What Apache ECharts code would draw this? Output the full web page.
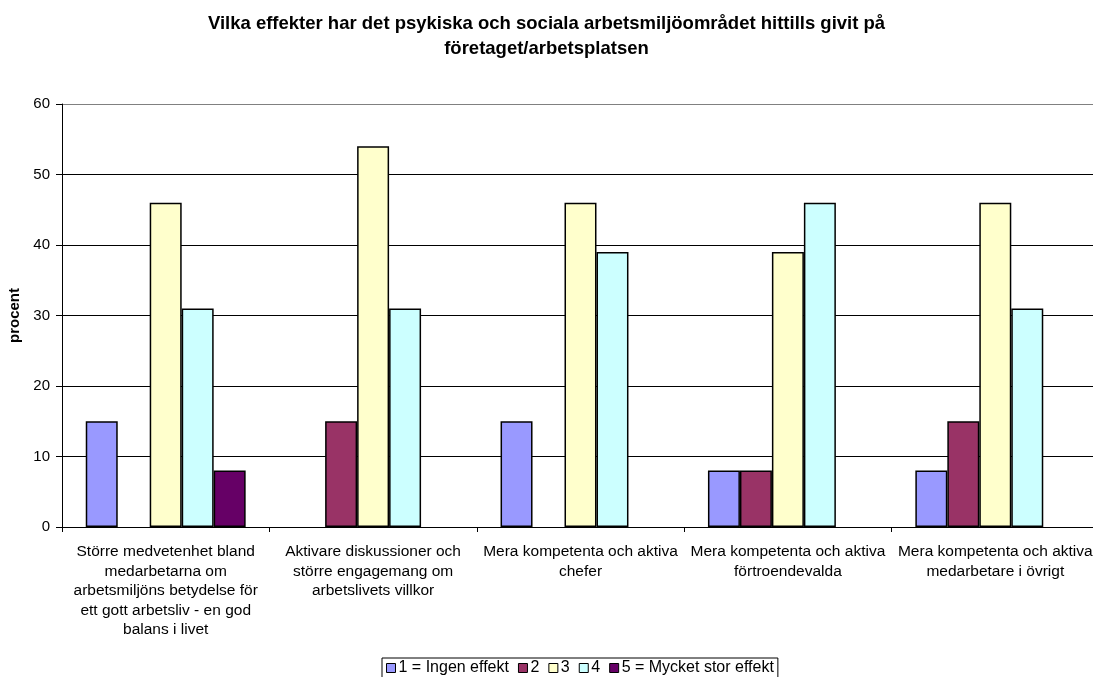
<!DOCTYPE html>
<html>
<head>
<meta charset="utf-8">
<script src="https://cdn.jsdelivr.net/npm/echarts@6/dist/echarts.min.js"></script>
<style>
  html, body { margin: 0; padding: 0; background: #fff; }
  #chart { width: 1093px; height: 677px; }
</style>
</head>
<body>
<div id="chart"></div>
<script>
// Answer categories (line breaks as in the printed report)
const categories = [
  'Större medvetenhet bland\nmedarbetarna om\narbetsmiljöns betydelse för\nett gott arbetsliv - en god\nbalans i livet',
  'Aktivare diskussioner och\nstörre engagemang om\narbetslivets villkor',
  'Mera kompetenta och aktiva\nchefer',
  'Mera kompetenta och aktiva\nförtroendevalda',
  'Mera kompetenta och aktiva\nmedarbetare i övrigt'
];

// Share of respondents (procent) per rating; null = no answers
const rating1 = [15, null, 15, 8, 8];
const rating2 = [null, 15, null, 8, 15];
const rating3 = [46, 54, 46, 39, 46];
const rating4 = [31, 31, 39, 46, 31];
const rating5 = [8, null, null, null, null];

const seriesNames = ['1 = Ingen effekt', '2', '3', '4', '5 = Mycket stor effekt'];
const seriesColors = ['#9999FF', '#993366', '#FFFFCC', '#CCFFFF', '#660066'];
const seriesData = [rating1, rating2, rating3, rating4, rating5];

const yTicks = { min: 0, max: 60, interval: 10 };

const font = 'Arial, "Liberation Sans", sans-serif';

const chart = echarts.init(document.getElementById('chart'), null, { renderer: 'canvas' });

chart.setOption({
  animation: false,
  backgroundColor: '#ffffff',
  textStyle: { fontFamily: font, color: '#000' },
  title: {
    text: 'Vilka effekter har det psykiska och sociala arbetsmiljöområdet hittills givit på\nföretaget/arbetsplatsen',
    left: 'center',
    top: 6,
    textStyle: { fontFamily: font, fontSize: 18.5, fontWeight: 'bold', color: '#000', lineHeight: 25 }
  },
  legend: {
    top: 658,
    left: 382,
    icon: 'rect',
    itemWidth: 9,
    itemHeight: 9,
    itemGap: 9,
    padding: [2, 4, 10, 4],
    borderColor: '#000',
    borderWidth: 1,
    textStyle: { fontFamily: font, fontSize: 16, color: '#000', padding: [0, 0, 0, -2] },
    data: seriesNames.map((n, i) => ({ name: n, itemStyle: { color: seriesColors[i], borderColor: '#000', borderWidth: 1 } }))
  },
  grid: { left: 62, right: -6, top: 104, bottom: 150, containLabel: false, outerBoundsMode: 'none' },
  xAxis: {
    type: 'category',
    data: categories,
    axisLine: { show: true, lineStyle: { color: '#000', width: 1 } },
    axisTick: { show: true, inside: false, length: 5, lineStyle: { color: '#000' } },
    axisLabel: { interval: 0, margin: 15, fontFamily: font, fontSize: 15.5, lineHeight: 19.5, color: '#000', align: 'center' },
    splitLine: { show: false }
  },
  yAxis: {
    type: 'value',
    min: yTicks.min,
    max: yTicks.max,
    interval: yTicks.interval,
    name: 'procent',
    nameLocation: 'middle',
    nameGap: 36,
    nameRotate: 90,
    nameTextStyle: { fontFamily: font, fontSize: 15, fontWeight: 'bold', color: '#000' },
    axisLine: { show: true, lineStyle: { color: '#000', width: 1 } },
    axisTick: { show: true, length: 6, lineStyle: { color: '#000' } },
    axisLabel: { margin: 12, fontFamily: font, fontSize: 15, color: '#000' },
    splitLine: {
      show: true,
      lineStyle: { color: ['#000', '#000', '#000', '#000', '#000', '#000', '#808080'], width: 1 }
    }
  },
  series: seriesData.map((d, i) => ({
    name: seriesNames[i],
    type: 'bar',
    data: d,
    barGap: '0%',
    barCategoryGap: '22.9%',
    itemStyle: { color: seriesColors[i], borderColor: '#000', borderWidth: 1.5 }
  }))
});
</script>
</body>
</html>
